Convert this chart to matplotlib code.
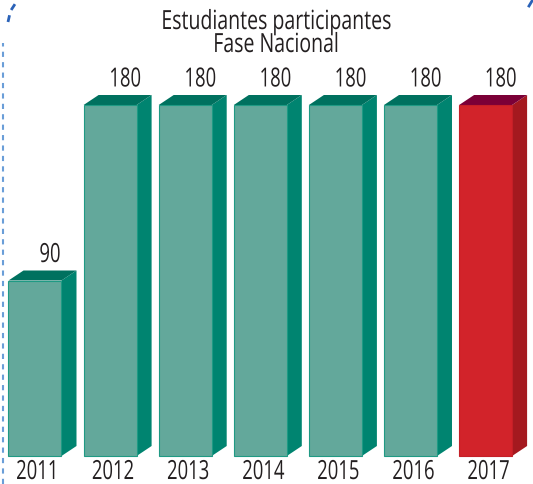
import matplotlib
matplotlib.use('Agg')
import matplotlib.pyplot as plt
from matplotlib.patches import Polygon
from matplotlib.lines import Line2D
from matplotlib.patheffects import AbstractPathEffect
from matplotlib.transforms import Affine2D

years = ['2011', '2012', '2013', '2014', '2015', '2016', '2017']
students = [90, 180, 180, 180, 180, 180, 180]
title_lines = ['Estudiantes participantes', 'Fase Nacional']


class Squeeze(AbstractPathEffect):
    # narrow the glyphs horizontally (no condensed font available)
    def __init__(self, sx):
        super().__init__()
        self.sx = sx

    def draw_path(self, renderer, gc, tpath, affine, rgbFace=None):
        ext = tpath.get_extents(affine)
        xc = (ext.x0 + ext.x1) / 2
        sq = Affine2D().translate(-xc, 0).scale(self.sx, 1).translate(xc, 0)
        renderer.draw_path(gc, tpath, affine + sq, rgbFace)


plt.rcParams['font.family'] = ['Open Sans', 'DejaVu Sans']
narrow = [Squeeze(0.70)]
ink = '#231f20'

W, H = 533, 485
fig = plt.figure(figsize=(W / 100, H / 100), dpi=100)
ax = fig.add_axes([0, 0, 1, 1])

# pixel scale: 75.1 px per category, 1.95 px per student
px_x, px_y = 75.1, 1.95
ax.set_xlim(-35 / px_x, (W - 35) / px_x)
ax.set_ylim(-28 / px_y, (H - 28) / px_y)
ax.axis('off')

bw = 53 / px_x     # front face width
dx = 15 / px_x     # depth offset
dy = 10 / px_y

for i, (yr, v) in enumerate(zip(years, students)):
    last = i == len(years) - 1
    front = '#d2232a' if last else '#63a89b'
    side = '#a4191f' if last else '#008470'
    top = '#7b0037' if last else '#00715f'
    edge = '#c41f27' if last else '#1f9a84'
    l, r = i - bw / 2, i + bw / 2
    ax.add_patch(Polygon([(r, 0), (r + dx, dy), (r + dx, v + dy), (r, v)],
                         closed=True, facecolor=side, edgecolor='none'))
    ax.add_patch(Polygon([(l, v), (r, v), (r + dx, v + dy), (l + dx, v + dy)],
                         closed=True, facecolor=top, edgecolor='none'))
    ax.bar(i, v, width=bw, color=front, edgecolor=edge, linewidth=0.8)
    ax.text(i + 0.2, v + 9.5, str(v), ha='center', va='baseline',
            fontsize=19, color=ink, path_effects=narrow)
    ax.text(i + 0.04, -11.8, yr, ha='center', va='baseline',
            fontsize=19, color=ink, path_effects=narrow)

fig.text(276 / W, 1 - 30 / H, title_lines[0], ha='center', va='baseline',
         fontsize=19, color=ink, path_effects=[Squeeze(0.74)])
fig.text(276 / W, 1 - 53 / H, title_lines[1], ha='center', va='baseline',
         fontsize=19, color=ink, path_effects=[Squeeze(0.74)])

# dashed frame pieces
fig.add_artist(Line2D([2.5 / W, 2.5 / W], [0, 1 - 44 / H], color='#6a9ed8',
                      linewidth=1.5, linestyle=(0, (2.5, 2.5))))
fig.add_artist(Line2D([8 / W, 10.5 / W, 17 / W], [1 - 23 / H, 1 - 12 / H, 1 - 2 / H],
                      color='#2a62b8', linewidth=2, linestyle=(0, (2.5, 2))))
fig.add_artist(Line2D([529 / W, 532 / W], [1 - 7 / H, 1 - 2 / H], color='#2a62b8',
                      linewidth=2))

fig.savefig('out.png', dpi=100)
